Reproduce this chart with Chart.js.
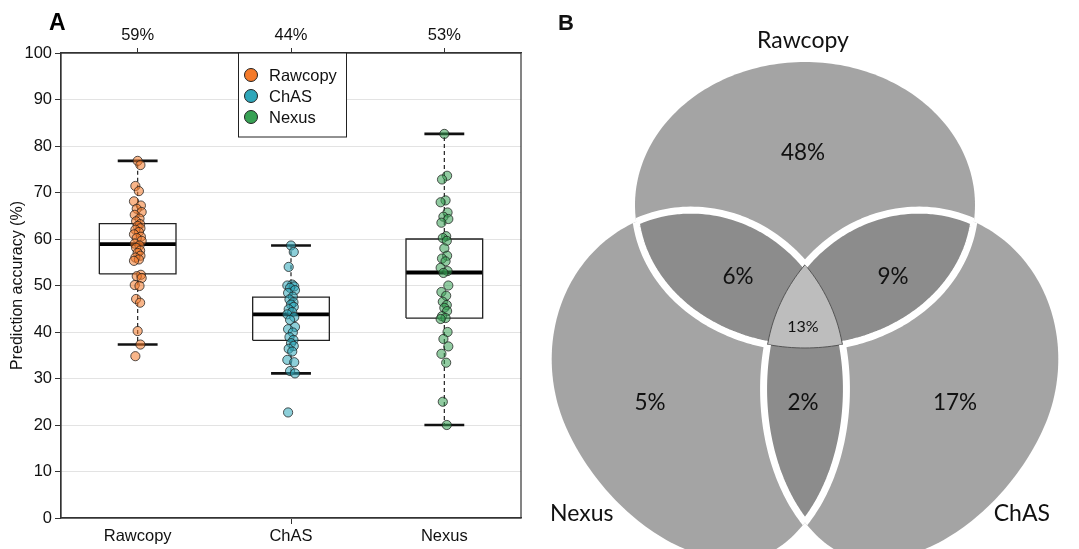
<!DOCTYPE html>
<html>
<head>
<meta charset="utf-8">
<script src="https://cdn.jsdelivr.net/npm/chart.js@4.4.1/dist/chart.umd.min.js"></script>
<style>
  html, body { margin: 0; padding: 0; background: #fff; }
  #wrap { position: relative; width: 1079px; height: 549px; }
  #boxWrap { position: absolute; left: 0; top: 0; }
  #vennWrap { position: absolute; left: 540px; top: 0; }
</style>
</head>
<body>
<div id="wrap">
  <div id="boxWrap"><canvas id="boxChart" width="540" height="549"></canvas></div>
  <div id="vennWrap"><canvas id="vennChart" width="539" height="549"></canvas></div>
</div>
<script>
// ---- Panel A data ----
const groups = ["Rawcopy", "ChAS", "Nexus"];
const medianLabels = ["59%", "44%", "53%"];
const groupColors = ["#f47a2a", "#2fa7ba", "#37a154"];

const rawcopyAcc = [76.8, 75.9, 71.4, 70.3, 68.1, 67.2, 66.5, 65.8, 65.2, 64.4, 63.8, 63.2, 62.8, 62.3,
  62.0, 61.5, 61.0, 60.5, 60.2, 59.6, 59.0, 58.6, 58.1, 57.5, 57.0, 56.4, 56.0, 55.6, 55.3, 52.3,
  52.0, 51.6, 50.1, 49.9, 47.1, 46.3, 40.2, 37.3, 34.8];
const chasAcc = [58.6, 57.2, 54.0, 50.2, 50.0, 49.8, 49.5, 49.0, 48.4, 47.6, 47.0, 46.4, 45.9, 45.4,
  44.9, 44.3, 43.8, 43.2, 42.6, 41.1, 40.6, 39.9, 38.9, 38.3, 37.6, 37.0, 36.4, 35.8, 34.0, 33.5,
  31.6, 31.1, 22.7];
const nexusAcc = [82.6, 73.6, 72.8, 68.3, 67.9, 65.7, 64.8, 64.3, 63.5, 60.6, 60.2, 59.6, 58.0, 56.4,
  55.8, 55.2, 53.8, 53.1, 52.7, 50.0, 48.6, 47.8, 46.5, 45.8, 45.2, 44.5, 43.4, 43.0, 42.8, 40.0,
  38.5, 36.9, 35.3, 33.4, 25.0, 20.0];

const boxQ1 = [52.5, 38.2, 43.0];
const boxMedian = [58.9, 43.8, 52.8];
const boxQ3 = [63.3, 47.5, 60.0];
const whiskerLow = [37.3, 31.1, 20.0];
const whiskerHigh = [76.8, 58.6, 82.6];

// ---- Panel B data ----
const vennSets = ["Rawcopy", "Nexus", "ChAS"];
const vennRegions = ["Rawcopy", "Rawcopy+Nexus", "Rawcopy+ChAS", "All", "Nexus", "Nexus+ChAS", "ChAS"];
const vennPercent = [48, 6, 9, 13, 5, 2, 17];

// ---- styling / layout ----
const FONT = "'Liberation Sans', Arial, sans-serif";
const BOX_HALF = 0.25;
const CAP_HALF = 0.13;
const JITTER = [0, 0.018, -0.015, 0.008, -0.024, 0.021, -0.006, 0.026, -0.019, 0.012, -0.01, 0.016];

function alpha(hex, a) {
  const n = parseInt(hex.slice(1), 16);
  return `rgba(${n >> 16}, ${(n >> 8) & 255}, ${n & 255}, ${a})`;
}

// a plain line segment (boxes, whiskers, caps, medians)
function segment(points, extra) {
  return Object.assign({
    type: "scatter",
    data: points.map(([x, y]) => ({ x, y })),
    showLine: true,
    borderColor: "#222",
    borderWidth: 1.2,
    pointRadius: 0,
    order: 2,
    clip: false,
  }, extra);
}

const datasets = [];
const allAcc = [rawcopyAcc, chasAcc, nexusAcc];

groups.forEach((g, i) => {
  const c = i + 1;
  datasets.push(segment([[c - BOX_HALF, boxQ1[i]], [c + BOX_HALF, boxQ1[i]], [c + BOX_HALF, boxQ3[i]],
    [c - BOX_HALF, boxQ3[i]], [c - BOX_HALF, boxQ1[i]]], { borderWidth: 1.3, borderJoinStyle: "miter" }));
  datasets.push(segment([[c, boxQ3[i]], [c, whiskerHigh[i]]], { borderDash: [4, 3] }));
  datasets.push(segment([[c, boxQ1[i]], [c, whiskerLow[i]]], { borderDash: [4, 3] }));
  datasets.push(segment([[c - CAP_HALF, whiskerHigh[i]], [c + CAP_HALF, whiskerHigh[i]]], { borderWidth: 2.6, borderColor: "#111" }));
  datasets.push(segment([[c - CAP_HALF, whiskerLow[i]], [c + CAP_HALF, whiskerLow[i]]], { borderWidth: 2.6, borderColor: "#111" }));
  datasets.push(segment([[c - BOX_HALF, boxMedian[i]], [c + BOX_HALF, boxMedian[i]]], { borderWidth: 3.8, borderColor: "#000" }));
  datasets.push({
    type: "scatter",
    label: g,
    data: allAcc[i].map((v, k) => ({ x: c + JITTER[k % JITTER.length], y: v })),
    backgroundColor: alpha(groupColors[i], 0.55),
    borderColor: "rgba(30, 30, 30, 0.75)",
    borderWidth: 1,
    pointRadius: 4.6,
    order: 0,
  });
});

const framePlugin = {
  id: "frame",
  afterDraw(chart) {
    const { ctx, chartArea: a } = chart;
    ctx.save();
    ctx.strokeStyle = "#333";
    ctx.lineWidth = 1.2;
    ctx.strokeRect(a.left, a.top, a.right - a.left, a.bottom - a.top);

    // legend box inside the plot
    const lx = a.left + 177, ly = a.top, lw = 108, lh = 84;
    ctx.fillStyle = "#fff";
    ctx.fillRect(lx, ly, lw, lh);
    ctx.lineWidth = 1;
    ctx.strokeStyle = "#222";
    ctx.strokeRect(lx + 0.5, ly, lw, lh);
    ctx.font = `16.5px ${FONT}`;
    ctx.textBaseline = "middle";
    groups.forEach((g, i) => {
      const cy = ly + 22 + i * 21;
      ctx.beginPath();
      ctx.arc(lx + 13, cy, 6.5, 0, Math.PI * 2);
      ctx.fillStyle = groupColors[i];
      ctx.fill();
      ctx.strokeStyle = "#222";
      ctx.stroke();
      ctx.fillStyle = "#111";
      ctx.fillText(g, lx + 31, cy + 1);
    });

    // panel letter
    ctx.font = `bold 23px ${FONT}`;
    ctx.fillStyle = "#000";
    ctx.textAlign = "left";
    ctx.fillText("A", 49, 24);
    ctx.restore();
  },
};

const tickFont = { family: FONT, size: 16.5 };

new Chart(document.getElementById("boxChart"), {
  type: "scatter",
  data: { datasets },
  options: {
    responsive: false,
    animation: false,
    events: [],
    layout: { padding: { left: 0, right: 19, top: 0, bottom: 0 } },
    plugins: { legend: { display: false }, tooltip: { enabled: false } },
    scales: {
      x: {
        type: "linear",
        position: "bottom",
        min: 0.5,
        max: 3.5,
        afterBuildTicks: (s) => { s.ticks = groups.map((g, i) => ({ value: i + 1 })); },
        afterFit: (s) => { s.height = 31; },
        ticks: { callback: (v) => groups[v - 1], color: "#111", font: tickFont, padding: 3, maxRotation: 0, autoSkip: false },
        grid: { drawOnChartArea: false, tickLength: 6, tickColor: (c) => (c.index === 1 ? "#333" : "rgba(0,0,0,0)") },
        border: { color: "#333", width: 1.2 },
      },
      xTop: {
        type: "linear",
        position: "top",
        min: 0.5,
        max: 3.5,
        afterBuildTicks: (s) => { s.ticks = groups.map((g, i) => ({ value: i + 1 })); },
        afterFit: (s) => { s.height = 53; },
        ticks: { callback: (v) => medianLabels[v - 1], color: "#111", font: tickFont, padding: 3, maxRotation: 0, autoSkip: false },
        grid: { drawOnChartArea: false, tickLength: 5, tickColor: "#333" },
        border: { color: "#333", width: 1.2 },
      },
      y: {
        min: 0,
        max: 100,
        afterFit: (s) => { s.width = 61; },
        ticks: { stepSize: 10, color: "#111", font: tickFont, padding: 3 },
        grid: { color: "#e3e3e3", lineWidth: 1, tickLength: 6, tickColor: "#333" },
        border: { color: "#333", width: 1.2 },
        title: { display: true, text: "Prediction accuracy (%)", color: "#111", font: { family: FONT, size: 16 }, padding: { top: 8, bottom: 0 } },
      },
    },
  },
  plugins: [framePlugin],
});

// ---- Panel B: three-set Venn drawn on hidden linear scales ----
// egg-like outlines: a half towards "far" end and a half towards "near" end of the long axis
const vennShapes = {
  Rawcopy: { cx: 265, cy: 205, rot: 0, aFar: 170, aNear: 170, bOut: 143, bIn: 143, pFar: 2, pNear: 2, mirror: false },
  Nexus: { cx: 158, cy: 367, rot: 72, aFar: 200, aNear: 158, bOut: 145, bIn: 146, pFar: 1.8, pNear: 2, mirror: false },
  ChAS: { cx: 372, cy: 367, rot: 72, aFar: 200, aNear: 158, bOut: 145, bIn: 146, pFar: 1.8, pNear: 2, mirror: true },
};
const vennLabelPos = [[263, 153], [198, 277], [353, 277], [263, 327], [110, 403], [263, 403], [415, 403]];
const vennSetLabelPos = { Rawcopy: [263, 41, "center"], Nexus: [10, 514, "left"], ChAS: [510, 514, "right"] };
const VFONT = "Lato, 'Open Sans', sans-serif";

const vennPlugin = {
  id: "venn",
  afterDraw(chart) {
    const { ctx, scales: { x, y } } = chart;
    const px = (v) => x.getPixelForValue(v);
    const py = (v) => y.getPixelForValue(v);

    function trace(name) {
      const s = vennShapes[name];
      const r = (s.rot * Math.PI) / 180;
      const ux = Math.cos(r), uy = Math.sin(r), vx = -uy, vy = ux;
      const sgn = s.mirror ? -1 : 1;
      const steps = 240;
      for (let k = 0; k <= steps; k++) {
        const t = (k / steps) * 2 * Math.PI;
        const c = Math.cos(t), sn = Math.sin(t);
        const far = c >= 0;
        const p = far ? s.pFar : s.pNear;
        const du = (far ? s.aFar : s.aNear) * Math.sign(c) * Math.pow(Math.abs(c), 2 / p);
        const dv = (sn >= 0 ? s.bOut : s.bIn) * Math.sign(sn) * Math.pow(Math.abs(sn), 2 / p);
        const gx = px(s.cx + sgn * (du * ux + dv * vx));
        const gy = py(s.cy + du * uy + dv * vy);
        if (k === 0) ctx.moveTo(gx, gy); else ctx.lineTo(gx, gy);
      }
      ctx.closePath();
    }
    function path(name) { ctx.beginPath(); trace(name); }
    function clipTo(name) { path(name); ctx.clip(); }

    const LIGHT = "#a4a4a4", DARK = "#8c8c8c", CENTER = "#bdbdbd";
    ctx.save();
    vennSets.forEach((n) => { path(n); ctx.fillStyle = LIGHT; ctx.fill(); });

    const pairs = [["Rawcopy", "Nexus"], ["Rawcopy", "ChAS"], ["Nexus", "ChAS"]];
    pairs.forEach(([a, b]) => {
      ctx.save(); clipTo(a); path(b); ctx.fillStyle = DARK; ctx.fill(); ctx.restore();
    });
    ctx.save(); clipTo("Rawcopy"); clipTo("Nexus"); path("ChAS"); ctx.fillStyle = CENTER; ctx.fill(); ctx.restore();

    // white gaps where a boundary crosses exactly one other set, thin dark lines inside all three
    vennSets.forEach((n) => {
      const others = vennSets.filter((o) => o !== n);
      ctx.save();
      ctx.beginPath(); trace(others[0]); trace(others[1]); ctx.clip("evenodd");
      path(n); ctx.strokeStyle = "#fff"; ctx.lineWidth = 7; ctx.lineJoin = "round"; ctx.stroke();
      ctx.restore();
      ctx.save();
      clipTo(others[0]); clipTo(others[1]);
      path(n); ctx.strokeStyle = "#555"; ctx.lineWidth = 1; ctx.stroke();
      ctx.restore();
    });

    ctx.fillStyle = "#111";
    ctx.textBaseline = "middle";
    ctx.textAlign = "center";
    vennPercent.forEach((p, i) => {
      ctx.font = `${vennRegions[i] === "All" ? 16 : 22.5}px ${VFONT}`;
      ctx.fillText(`${p}%`, px(vennLabelPos[i][0]), py(vennLabelPos[i][1]));
    });
    ctx.font = `23px ${VFONT}`;
    vennSets.forEach((n) => {
      const [lx, ly, al] = vennSetLabelPos[n];
      ctx.textAlign = al;
      ctx.fillText(n, px(lx), py(ly));
    });
    ctx.font = `bold 22px ${FONT}`;
    ctx.textAlign = "left";
    ctx.fillText("B", px(18), py(24));
    ctx.restore();
  },
};

new Chart(document.getElementById("vennChart"), {
  type: "scatter",
  data: { datasets: [] },
  options: {
    responsive: false,
    animation: false,
    events: [],
    layout: { padding: 0 },
    plugins: { legend: { display: false }, tooltip: { enabled: false } },
    scales: {
      x: { type: "linear", min: 0, max: 539, display: false },
      y: { type: "linear", min: 0, max: 549, reverse: true, display: false },
    },
  },
  plugins: [vennPlugin],
});
</script>
</body>
</html>
